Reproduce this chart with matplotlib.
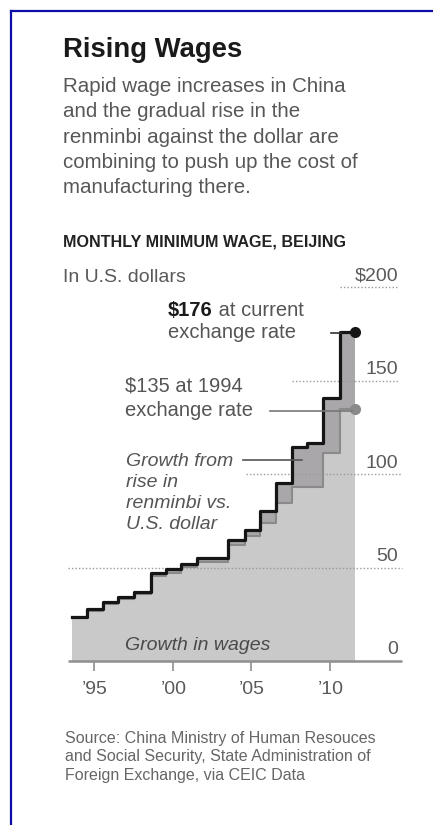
import matplotlib
matplotlib.use("Agg")
import matplotlib.pyplot as plt

# ---------------- data ----------------
step_years = [1993.6, 1994.55, 1995.55, 1996.55, 1997.55, 1998.6, 1999.6, 2000.55,
              2001.55, 2003.55, 2004.6, 2005.6, 2006.6, 2007.6, 2008.55, 2009.6, 2010.65]
end_year = 2011.6
wage_current = [23.7, 27.8, 31.4, 34.4, 37.0, 46.9, 49.0, 51.9,
                54.9, 64.7, 70.0, 80.0, 95.0, 114.6, 116.6, 140.8, 176.0]
wage_1994 = [23.7, 26.9, 30.3, 33.2, 35.7, 45.3, 47.3, 50.1,
             53.0, 62.2, 67.0, 73.8, 84.7, 92.8, 92.8, 111.4, 135.0]
grid_values = [50, 100, 150, 200]
ytick_values = [0, 50, 100, 150, 200]
ytick_labels = ["0", "50", "100", "150", "$200"]
xtick_years = [1995, 2000, 2005, 2010]
xtick_labels = ["\u201995", "\u201900", "\u201905", "\u201910"]

W, H = 433, 825
plt.rcParams['font.family'] = ['Liberation Sans', 'DejaVu Sans']

fig = plt.figure(figsize=(W / 100, H / 100), dpi=100)
fig.patch.set_facecolor('white')

# pixel mapping of the chart (image px, y from top)
X0PX, XSCALE = 94.0, 15.7     # px of 1995, px per year
Y0PX, YSCALE = 661.0, 1.87    # px of value 0, px per unit

ax_l, ax_r, ax_t, ax_b = 60, 410, 280, 680
ax = fig.add_axes([ax_l / W, 1 - ax_b / H, (ax_r - ax_l) / W, (ax_b - ax_t) / H])
ax.set_xlim(1995 + (ax_l - X0PX) / XSCALE, 1995 + (ax_r - X0PX) / XSCALE)
ax.set_ylim((Y0PX - ax_b) / YSCALE, (Y0PX - ax_t) / YSCALE)
ax.axis('off')


def px2year(px):
    return 1995 + (px - X0PX) / XSCALE


def val2py(v):
    return Y0PX - v * YSCALE


xs = step_years + [end_year]
yc = wage_current + [wage_current[-1]]
y94 = wage_1994 + [wage_1994[-1]]

light = '#c9c9c9'
dark = '#aaa7ab'
ax.fill_between(xs, 0, y94, step='post', color=light, lw=0, zorder=1)
ax.fill_between(xs, y94, yc, step='post', color=dark, lw=0, zorder=1)

# gridlines (dotted, partial)
grid_start_px = {50: 68, 100: 246, 150: 292, 200: 340}
grid_end_px = {50: 402, 100: 402, 150: 398, 200: 398}
for g in grid_values:
    ax.hlines(g, px2year(grid_start_px[g]), px2year(grid_end_px[g]),
              colors='#9a9a9a', linestyles=(0, (1, 1.5)), lw=1.0, zorder=2)

ax.step(xs, y94, where='post', color='#8a8a8a', lw=1.5, zorder=3)
ax.step(xs, yc, where='post', color='#151515', lw=2.3, zorder=4)
ax.plot([end_year], [wage_1994[-1]], 'o', color='#8a8a8a', ms=8, zorder=5, mec='none')
ax.plot([end_year], [wage_current[-1]], 'o', color='#151515', ms=8, zorder=6, mec='none')

# baseline axis and ticks
ax.hlines(0, px2year(68), px2year(402), colors='#8f8f8f', lw=1.8, zorder=5)
for yr in xtick_years:
    ax.vlines(yr, (Y0PX - 671) / YSCALE, 0, colors='#8f8f8f', lw=1.2, zorder=5)


def T(x, y, s, **kw):
    kw.setdefault('va', 'baseline')
    kw.setdefault('ha', 'left')
    return fig.text(x / W, 1 - y / H, s, **kw)


def L(x0, x1, y, color, lw=1.2):
    fig.add_artist(plt.Line2D([x0 / W, x1 / W], [1 - y / H, 1 - y / H], color=color, lw=lw))


# frame
fig.add_artist(plt.Line2D([10.5 / W, 10.5 / W], [0, 1 - 10.5 / H], color='#0c0ca6', lw=1.6))
L(10.5, W, 10.5, '#0c0ca6', lw=1.6)

# titles
T(63, 57, "Rising Wages", fontsize=19.8, fontweight='bold', color='#1a1a1a')
sub = ["Rapid wage increases in China",
       "and the gradual rise in the",
       "renminbi against the dollar are",
       "combining to push up the cost of",
       "manufacturing there."]
for i, line in enumerate(sub):
    T(63, 92 + i * 25.3, line, fontsize=14.8, color='#575757')
T(63, 247, "MONTHLY MINIMUM WAGE, BEIJING", fontsize=11.6, fontweight='bold', color='#222222')
T(63, 282, "In U.S. dollars", fontsize=14, color='#5a5a5a')

# y labels
for v, lab in zip(ytick_values, ytick_labels):
    T(398, val2py(v) - 6.5, lab, fontsize=14, color='#5a5a5a', ha='right')

# x labels
for yr, lab in zip(xtick_years, xtick_labels):
    T(X0PX + (yr - 1995) * XSCALE + 1, 694, lab, fontsize=14, color='#5a5a5a', ha='center')

# annotations
renderer = fig.canvas.get_renderer()
t1 = T(168, 316, "$176", fontsize=14.5, fontweight='bold', color='#1a1a1a')
bb = t1.get_window_extent(renderer)
T(bb.x1, 316, " at current", fontsize=14.5, color='#555555')
T(168, 338, "exchange rate", fontsize=14.5, color='#555555')
L(331, 341, 333, '#333333')

T(125, 392, "$135 at 1994", fontsize=14.5, color='#555555')
T(125, 416, "exchange rate", fontsize=14.5, color='#555555')
L(270, 352, 411, '#777777')

ital = ["Growth from", "rise in", "renminbi vs.", "U.S. dollar"]
for i, line in enumerate(ital):
    T(126, 466 + i * 21, line, fontsize=14, style='italic', color='#555555')
L(243, 302, 460, '#555555')

T(125, 650, "Growth in wages", fontsize=14, style='italic', color='#4a4a4a')

src = ["Source: China Ministry of Human Resouces",
       "and Social Security, State Administration of",
       "Foreign Exchange, via CEIC Data"]
for i, line in enumerate(src):
    T(65, 743 + i * 18.5, line, fontsize=11.5, color='#666666')

fig.savefig("out.png", dpi=100, facecolor='white')
